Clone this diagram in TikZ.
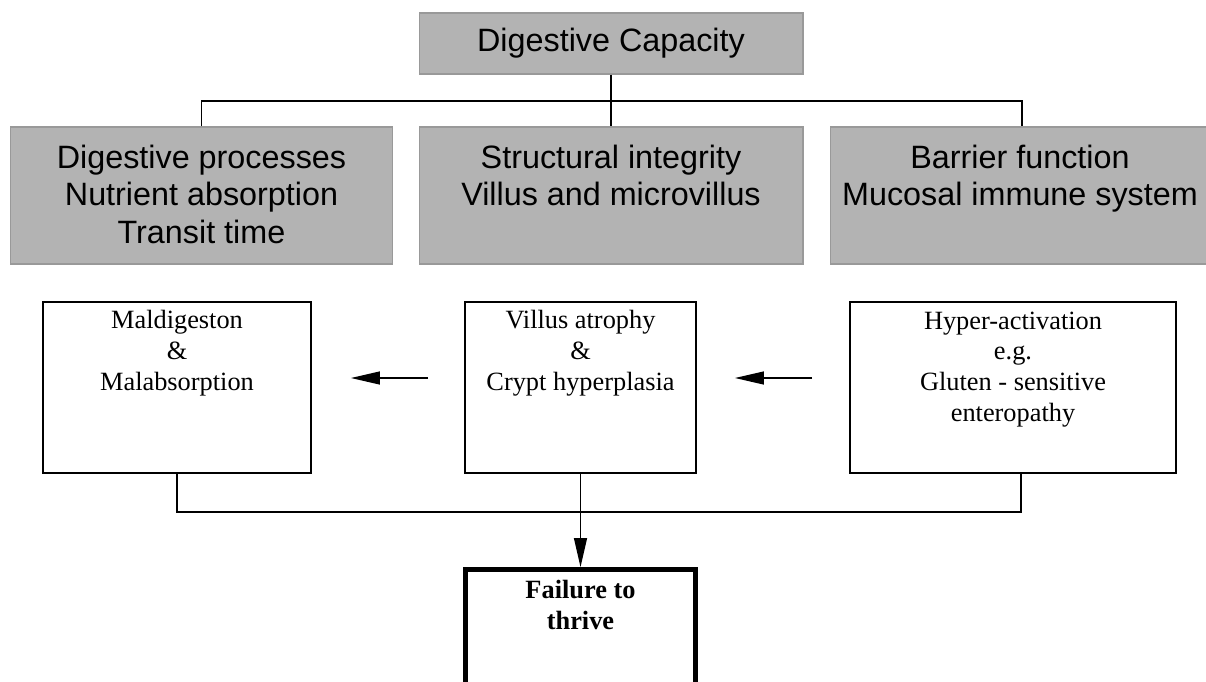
\documentclass[tikz,border=0pt]{standalone}
\usepackage{fontspec}
\setmainfont{Liberation Serif}
\setsansfont{Liberation Sans}
\usetikzlibrary{arrows.meta}
\definecolor{boxgray}{HTML}{B3B3B3}
\definecolor{edgegray}{HTML}{999999}
\begin{document}
\begin{tikzpicture}[x=0.02cm,y=-0.02cm,
  graybox/.style={draw=edgegray,fill=boxgray,line width=0.6pt,inner sep=0pt,minimum height=2.74cm},
  graytext/.style={anchor=base,align=center,inner sep=0pt,font=\sffamily\fontsize{18.4}{21.3}\selectfont},
  whitebox/.style={draw,line width=1.1pt,inner sep=0pt,minimum height=3.42cm},
  whitetext/.style={anchor=base,align=center,inner sep=0pt,font=\fontsize{15}{17.4}\selectfont},
  link/.style={line width=0.8pt},
  arr/.style={line width=0.75pt,-{Triangle[length=0.58cm,width=0.26cm]}}]
\useasboundingbox (0,0) rectangle (1206,682);
\clip (0,0) rectangle (1206,682);
% top level (text nodes sit on the baseline of their last line)
\node[graybox,minimum width=7.68cm,minimum height=1.22cm,font=\sffamily\fontsize{18.4}{21.3}\selectfont] (cap) at (611,43.5) {Digestive Capacity};
\node[graybox,minimum width=7.66cm] (proc) at (201.5,195.5) {};
\node[graybox,minimum width=7.68cm] (struct) at (611,195.5) {};
\node[graybox,minimum width=7.68cm] (barrier) at (1022,195.5) {};
\node[graytext] (proctext) at (201.5,243) {Digestive processes\\Nutrient absorption\\Transit time};
\node[graytext] (structtext) at (611,205.5) {Structural integrity\\Villus and microvillus};
\node[graytext] (barriertext) at (1020,205.5) {Barrier function\\Mucosal immune system};
\coordinate (topbus) at (611,101);
\draw[link] (cap) -- (struct);
\draw[link] (proc.north) |- (topbus) -| (barrier.north);
% disorders
\node[whitebox,minimum width=5.36cm] (mal) at (177,387.5) {};
\node[whitebox,minimum width=4.62cm] (vil) at (580.5,387.5) {};
\node[whitebox,minimum width=6.52cm] (hyp) at (1013,387.5) {};
\node[whitetext] (maltext) at (177,390) {Maldigeston\\\&\\Malabsorption};
\node[whitetext] (viltext) at (580.5,390) {Villus atrophy\\\&\\Crypt hyperplasia};
\node[whitetext] (hyptext) at (1013,421) {Hyper-activation\\e.g.\\Gluten - sensitive\\enteropathy};
\draw[arr,shorten <=0.74cm,shorten >=0.76cm] ([yshift=0.19cm]hyp.west) -- ([yshift=0.19cm]vil.east);
\draw[arr,shorten <=0.72cm,shorten >=0.78cm] ([yshift=0.19cm]vil.west) -- ([yshift=0.19cm]mal.east);
% outcome
\node[draw,line width=2.8pt,inner sep=0pt,minimum width=4.6cm,minimum height=2.96cm] (fail) at (580.5,643.5) {};
\node[whitetext,font=\bfseries\fontsize{15}{17.2}\selectfont] (failtext) at (580.5,629) {Failure to\\thrive};
\coordinate (botbus) at (580.5,512);
\draw[link] (mal.south) |- (botbus) -| ([xshift=0.16cm]hyp.south);
\draw[arr] (vil) -- (fail);
\end{tikzpicture}
\end{document}
